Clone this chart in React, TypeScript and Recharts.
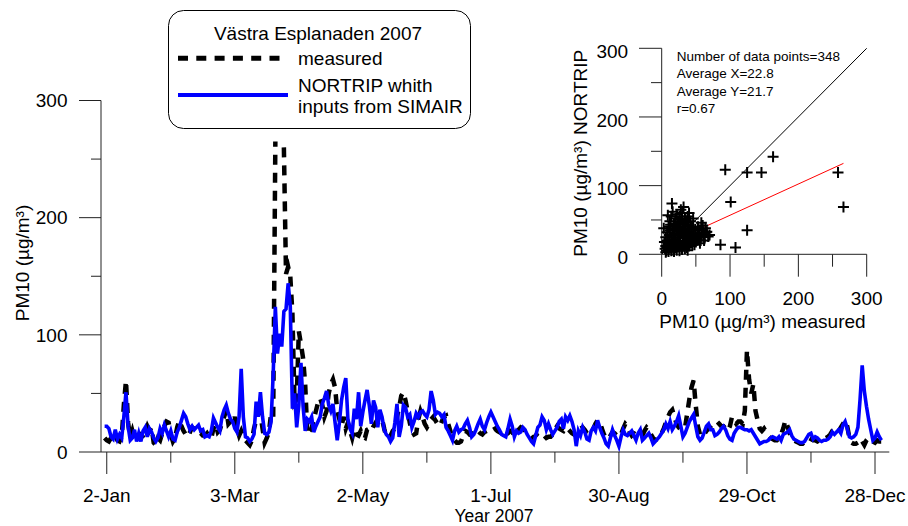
import { LineChart, Line, XAxis, YAxis, Legend, ScatterChart, Scatter, ReferenceLine } from "recharts";

const FONT = '"Liberation Sans", Arial, sans-serif';
const AXIS = "#222";

// daily PM10, day 1 = 1 Jan 2007 (null = missing measurement)
const measured = [
  12, 10, 9, 12, 11, 14, 10, 9, 13, 40,
  61, 25, 12, 18, 11, 10, 13, 15, 14, 17,
  22, 18, 21, 8, 6, 12, 10, 16, 22, 26,
  25, 15, 9, 12, 21, 27, 22, 18, 15, 13,
  17, 21, 20, 17, 15, 16, 14, 14, 16, 13,
  12, 20, 24, 17, 19, 25, 30, 36, 24, 26,
  24, 30, 20, 14, 18, 13, 10, 8, 6, 10,
  20, 27, 35, 32, 20, 8, 12, 17, 33, 30,
  265, null, null, null, 260, 152, 158, 150, 118, 42,
  45, 103, 92, 80, 57, 15, 18, 20, 28, 35,
  42, 46, 40, 30, 35, 50, 58, 62, 55, 35,
  28, 22, 30, 20, 25, 18, 12, 20, 15, 14,
  18, 13, 12, 19, 20, 18, 22, 25, 28, 27,
  28, 20, 13, 12, 14, 18, 20, 30, 38, 48,
  51, 44, 35, 25, 18, 15, 16, 28, 35, 30,
  24, 21, 24, 28, 30, 27, 24, 22, 26, 30,
  31, 24, 18, 12, 10, 8, 8, 9, 14, 18,
  17, 15, 16, 15, 17, 18, 16, 15, 17, 18,
  17, 17, 19, 20, 18, 17, 19, 18, 15, 16,
  18, 17, 14, 15, 19, 21, 20, 18, 16, 15,
  13, 12, 14, 16, 17, 15, 14, 12, 13, 13,
  15, 19, 22, 20, 19, 18, 21, 20, 18, 16,
  15, 14, 17, 20, 21, 19, 16, 15, 17, 20,
  24, 27, 26, 20, 15, 12, 11, 14, 17, 16,
  14, 13, 15, 20, 24, 22, 17, 14, 16, 15,
  13, 14, 14, 18, 21, 19, 15, 12, 10, 11,
  13, 16, 20, 25, 30, 34, 36, 30, 24, 21,
  19, 20, 21, 33, 45, 55, 61, 40, 22, 15,
  13, 15, 18, 20, 22, 24, 26, 26, 24, 22,
  22, 20, 18, 22, 30, 27, 24, 26, 26, 24,
  35, 87, 62, 50, 58, 35, 27, 20, 18, 20,
  17, 14, 12, 11, 10, 10, 12, 15, 20, 27,
  22, 16, 11, 10, 9, 8, 7, 7, 9, 11,
  12, 11, 10, 10, 9, 10, 11, 12, 12, 13,
  15, 18, 18, 16, 18, 21, 24, 27, 22, 12,
  8, 7, 7, 8, null, 9, 6, 10, 12, 10,
  9, 8, 10, 9, 9,
];

const nortrip = [
  22, 22, 20, 13, 11, 19, 11, 15, 12, 30,
  51, 22, 10, 12, 19, 9, 16, 9, 18, 21,
  13, 20, 17, 12, 9, 12, 20, 16, 23, 18,
  13, 18, 11, 10, 17, 21, 27, 33, 30, 24,
  19, 22, 19, 21, 23, 18, 19, 13, 14, 13,
  18, 29, 25, 21, 18, 30, 36, 40, 33, 28,
  26, 20, 17, 30, 71, 30, 13, 12, 9, 11,
  15, 43, 30, 51, 30, 16, 15, 17, 26, 67,
  124, 84, 101, 90, 120, 122, 144, 124, 37, 50,
  21, 40, 76, 39, 18, 28, 26, 30, 17, 22,
  26, 30, 41, 46, 52, 40, 35, 41, 25, 10,
  25, 44, 55, 63, 28, 20, 16, 37, 28, 51,
  22, 34, 44, 53, 40, 24, 44, 38, 21, 36,
  30, 19, 15, 13, 9, 12, 25, 41, 13, 22,
  40, 38, 30, 32, 21, 26, 33, 30, 34, 35,
  32, 30, 36, 52, 44, 32, 34, 33, 30, 32,
  21, 18, 14, 10, 18, 22, 17, 19, 20, 24,
  27, 21, 13, 15, 19, 24, 28, 22, 19, 25,
  30, 34, 30, 26, 22, 19, 15, 14, 13, 20,
  28, 22, 13, 18, 16, 17, 21, 19, 15, 12,
  9, 7, 14, 21, 23, 30, 27, 19, 24, 19,
  15, 18, 21, 26, 28, 20, 30, 27, 31, 26,
  19, 5, 18, 14, 21, 17, 11, 10, 18, 21,
  18, 27, 21, 16, 12, 7, 5, 12, 19, 14,
  10, 5, 13, 19, 15, 14, 16, 18, 14, 10,
  16, 19, 10, 12, 14, 16, 12, 7, 9, 11,
  13, 16, 19, 24, 20, 26, 19, 22, 26, 31,
  22, 13, 16, 21, 26, 29, 32, 22, 13, 10,
  12, 17, 22, 24, 19, 19, 14, 15, 17, 20,
  22, 19, 14, 11, 10, 16, 19, 21, 21, 20,
  19, 19, 18, 19, 16, 13, 10, 7, 8, 9,
  9, 10, 12, 13, 12, 11, 13, 10, 15, 16,
  17, 19, 14, 11, 10, 9, 8, 8, 9, 12,
  15, 16, 11, 13, 12, 10, 9, 10, 10, 11,
  13, 17, 15, 17, 19, 16, 23, 26, 20, 13,
  12, 13, 15, 21, 45, 74, 52, 39, 28, 19,
  10, 12, 17, 13, 10,
];

const dayTicks = [2, 32, 62, 92, 122, 152, 182, 212, 242, 272, 302, 332, 362];
const dayLabels = ["2-Jan", "", "3-Mar", "", "2-May", "", "1-Jul", "", "30-Aug", "", "29-Oct", "", "28-Dec"];
const pmTicks = [0, 50, 100, 150, 200, 250, 300];

// inset scatter: measured (x) vs NORTRIP (y)
const scatterMeasured = [
  5, 6, 7, 8, 9, 10, 11, 12, 13, 14, 15, 16, 17, 18, 19, 20, 21, 22, 23, 24,
  25, 26, 27, 28, 29, 30, 31, 32, 33, 34, 35, 36, 37, 38, 39, 40, 42, 44, 46, 48,
  50, 52, 55, 58, 60, 62, 65, 68, 70, 4, 6, 8, 10, 12, 14, 15, 16, 18, 20, 22,
  24, 26, 28, 30, 32, 34, 36, 38, 40, 42, 44, 46, 3, 9, 12, 16, 20, 24, 28, 30,
  32, 34, 36, 38, 40, 42, 44, 46, 50, 54, 56, 58, 60, 62, 64, 66, 6, 10, 14, 18,
  22, 26, 30, 34, 38, 8, 11, 13, 17, 19, 21, 23, 25, 27, 29, 31, 33, 35, 37, 39,
  41, 43, 45, 47, 49, 51, 53, 57, 59, 63,
  93, 101, 125, 125, 146, 163, 258, 266, 86, 108,
];
const scatterModel = [
  8, 12, 5, 10, 15, 7, 20, 9, 14, 25, 11, 18, 6, 30, 13, 22, 9, 35, 16, 27,
  12, 40, 19, 31, 8, 45, 24, 14, 36, 20, 50, 28, 10, 42, 22, 33, 18, 26, 38, 14,
  30, 22, 35, 27, 42, 20, 32, 26, 28, 18, 25, 32, 40, 48, 55, 74, 62, 45, 52, 58,
  48, 55, 65, 60, 69, 52, 47, 55, 60, 48, 40, 52, 38, 57, 35, 38, 42, 38, 46, 33,
  28, 38, 18, 30, 12, 25, 18, 22, 18, 26, 16, 46, 35, 28, 38, 33, 3, 4, 5, 4,
  6, 5, 7, 8, 6, 20, 28, 43, 27, 36, 15, 44, 24, 33, 51, 18, 44, 32, 24, 16,
  37, 30, 14, 28, 36, 24, 40, 20, 31, 25,
  123, 76, 119, 35, 119, 142, 119, 69, 14, 10,
];
const fitX = [2, 266];
const fitY = [12.3, 132.4];
const stats = ["Number of data points=348", "Average X=22.8", "Average Y=21.7", "r=0.67"];

const rows = nortrip.map((v, i) => ({ day: i + 1, nortrip: v, measured: measured[i] }));
const points = scatterMeasured.map((x, i) => ({ x, y: scatterModel[i] }));

const TimeTick = (props: any) => {
  const { x, y, payload } = props;
  const label = dayLabels[dayTicks.indexOf(payload.value)] || "";
  const major = label !== "";
  return (
    <g>
      <line x1={x} y1={y} x2={x} y2={y + (major ? 22 : 10.7)} stroke={AXIS} />
      {major && (
        <text x={x} y={y + 50} textAnchor="middle" fontSize={19} fill="#000" fontFamily={FONT}>
          {label}
        </text>
      )}
    </g>
  );
};

const leftTick = (major: number, minor: number, dy: number) => (props: any) => {
  const { x, y, payload } = props;
  const isMajor = payload.value % 100 === 0;
  return (
    <g>
      <line x1={x - (isMajor ? major : minor)} y1={y} x2={x} y2={y} stroke={AXIS} />
      {isMajor && (
        <text x={x - 33.5} y={y + dy} textAnchor="end" fontSize={19} fill="#000" fontFamily={FONT}>
          {payload.value}
        </text>
      )}
    </g>
  );
};

const InsetXTick = (props: any) => {
  const { x, y, payload } = props;
  const isMajor = payload.value % 100 === 0;
  return (
    <g>
      <line x1={x} y1={y} x2={x} y2={y + (isMajor ? 22.4 : 12.4)} stroke={AXIS} />
      {isMajor && (
        <text x={x} y={y + 50.5} textAnchor="middle" fontSize={19} fill="#000" fontFamily={FONT}>
          {payload.value}
        </text>
      )}
    </g>
  );
};

const AxisTitle = ({ cx, cy, vertical, text, size = 19 }: any) => (
  <text
    x={cx}
    y={cy}
    transform={vertical ? `rotate(-90 ${cx} ${cy})` : undefined}
    textAnchor="middle"
    dominantBaseline="central"
    fontSize={size}
    fill="#000"
    fontFamily={FONT}
  >
    {text}
  </text>
);

const Cross = (props: any) => {
  const { cx, cy } = props;
  return <path d={`M${cx - 5.5},${cy}H${cx + 5.5}M${cx},${cy - 5.5}V${cy + 5.5}`} stroke="#000" strokeWidth={2} fill="none" />;
};

const LegendBox = () => (
  <svg width={304} height={120} style={{ display: "block" }} fontFamily={FONT}>
    <rect x={0.5} y={0.5} width={302} height={118} rx={15} fill="#fff" stroke="#000" />
    <text x={150} y={23.3} textAnchor="middle" dominantBaseline="central" fontSize={19}>
      Västra Esplanaden 2007
    </text>
    <line x1={10} x2={112} y1={48.3} y2={48.3} stroke="#000" strokeWidth={5} strokeDasharray="10 8.3" />
    <text x={130} y={48.3} dominantBaseline="central" fontSize={19}>measured</text>
    <line x1={10} x2={120} y1={85} y2={85} stroke="#0000ff" strokeWidth={4} />
    <text x={130} y={75} dominantBaseline="central" fontSize={19}>NORTRIP whith</text>
    <text x={130} y={96.7} dominantBaseline="central" fontSize={19}>inputs from SIMAIR</text>
  </svg>
);

const App = () => {
  return (
    <div style={{ position: "absolute", left: 0, top: 0, width: 908, height: 526, background: "#fff", fontFamily: FONT }}>
      <LineChart width={908} height={526} data={rows} margin={{ top: 100.5, right: 18.7, bottom: 0, left: 0 }}>
        <XAxis
          type="number"
          dataKey="day"
          domain={[-0.7, 368.7]}
          allowDataOverflow
          ticks={dayTicks}
          interval={0}
          tick={TimeTick}
          tickSize={0}
          tickMargin={0}
          tickLine={false}
          axisLine={{ stroke: AXIS }}
          height={74}
          label={<AxisTitle cx={494} cy={516} size={17.5} text="Year 2007" />}
        />
        <YAxis
          type="number"
          domain={[0, 300]}
          ticks={pmTicks}
          interval={0}
          tick={leftTick(22, 10, 6.8)}
          tickSize={0}
          tickMargin={0}
          tickLine={false}
          axisLine={{ stroke: AXIS }}
          width={101}
          label={<AxisTitle cx={22.5} cy={263} vertical text="PM10 (µg/m³)" />}
        />
        <Legend
          layout="horizontal"
          verticalAlign="middle"
          align="center"
          content={LegendBox}
          wrapperStyle={{ position: "absolute", left: 168, top: 10, width: 304, height: 120, margin: 0, padding: 0 }}
        />
        <Line
          type="linear"
          dataKey="measured"
          stroke="#000"
          strokeWidth={4.5}
          strokeDasharray="10 8"
          dot={false}
          activeDot={false}
          isAnimationActive={false}
        />
        <Line
          type="linear"
          dataKey="nortrip"
          stroke="#0000ff"
          strokeWidth={3.6}
          dot={false}
          activeDot={false}
          isAnimationActive={false}
        />
      </LineChart>

      <div style={{ position: "absolute", left: 560, top: 30 }}>
        <ScatterChart width={340} height={310} margin={{ top: 18.3, right: 33.3, bottom: 0, left: 0 }}>
          <XAxis
            type="number"
            dataKey="x"
            domain={[0, 300]}
            ticks={pmTicks}
            interval={0}
            tick={InsetXTick}
            tickSize={0}
            tickMargin={0}
            tickLine={false}
            axisLine={{ stroke: AXIS }}
            height={85.7}
            label={<AxisTitle cx={202.5} cy={291.7} text="PM10 (µg/m³) measured" />}
          />
          <YAxis
            type="number"
            dataKey="y"
            domain={[0, 300]}
            ticks={pmTicks}
            interval={0}
            tick={leftTick(22.7, 10.7, 9.8)}
            tickSize={0}
            tickMargin={0}
            tickLine={false}
            axisLine={{ stroke: AXIS }}
            width={101.7}
            label={<AxisTitle cx={21} cy={123.3} vertical text="PM10 (µg/m³) NORTRIP" />}
          />
          <ReferenceLine segment={[{ x: 0, y: 0 }, { x: 300, y: 300 }]} stroke="#000" strokeWidth={1} />
          <ReferenceLine
            segment={[{ x: fitX[0], y: fitY[0] }, { x: fitX[1], y: fitY[1] }]}
            stroke="#ff0000"
            strokeWidth={1}
          />
          <Scatter data={points} shape={Cross} isAnimationActive={false} />
        </ScatterChart>
      </div>

      <div style={{ position: "absolute", left: 676.7, top: 48, fontSize: 13.5, lineHeight: "17.4px", color: "#000", whiteSpace: "nowrap" }}>
        {stats.map((s) => (
          <div key={s}>{s}</div>
        ))}
      </div>
    </div>
  );
};

export default App;
